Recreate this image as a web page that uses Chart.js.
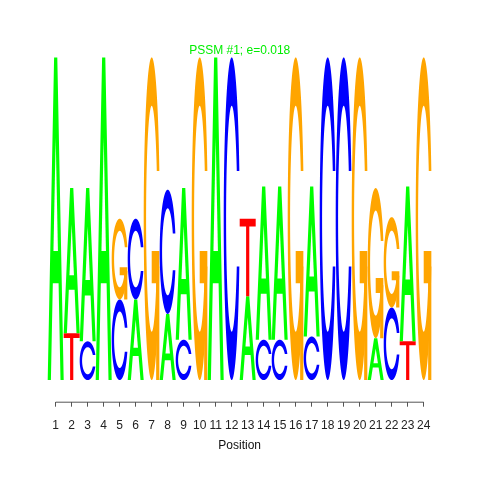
<!DOCTYPE html>
<html>
<head>
<meta charset="utf-8">
<script src="https://cdn.jsdelivr.net/npm/chart.js@4/dist/chart.umd.min.js"></script>
<style>
html,body{margin:0;padding:0;background:#fff;}
#wrap{width:480px;height:480px;}
</style>
</head>
<body>
<div id="wrap"><canvas id="c" width="480" height="480"></canvas></div>
<script>
// ---- data (information content in bits, stacked bottom -> top) ----
const positions = ['1','2','3','4','5','6','7','8','9','10','11','12','13','14','15','16','17','18','19','20','21','22','23','24'];
const bottomLetters = ['A','T','C','A','C','A','G','A','C','G','A','C','A','C','C','G','C','C','C','G','A','C','T','G'];
const bottomBits    = [2.0,0.29,0.24,2.0,0.50,0.50,2.0,0.41,0.25,2.0,2.0,2.0,0.52,0.25,0.25,2.0,0.27,2.0,2.0,2.0,0.26,0.45,0.24,2.0];
const topLetters    = ['','A','A','','G','C','','C','A','','','','T','A','A','','A','','','','G','G','A',''];
const topBits       = [0,0.90,0.95,0,0.50,0.50,0,0.77,0.94,0,0,0,0.48,0.95,0.95,0,0.93,0,0,0,0.93,0.56,0.96,0];
const titleText = 'PSSM #1; e=0.018';
const xTitle = 'Position';

const letterColors = {A:'#00FF00', C:'#0000FF', G:'#FFA500', T:'#FF0000'};

// ---- letter shapes in unit box (x right, y up), as in seqLogo ----
function seq(a,b,n){const r=[];for(let i=0;i<n;i++)r.push(a+(b-a)*i/(n-1));return r;}
function ringShape(){
  const a1=seq(0.3+Math.PI/2,Math.PI,100), a2=seq(Math.PI,1.5*Math.PI,100);
  const xl1=a1.map(a=>0.5+0.5*Math.sin(a)), yl1=a1.map(a=>0.5+0.5*Math.cos(a));
  const xl2=a2.map(a=>0.5+0.5*Math.sin(a)), yl2=a2.map(a=>0.5+0.5*Math.cos(a));
  const xl=xl1.concat(xl2), yl=yl1.concat(yl2);
  const ox=xl.concat(xl.slice().reverse()), oy=yl.concat(yl.slice().reverse().map(v=>1-v));
  const maxY=Math.max(...yl1);
  let xi1=a1.map(a=>0.5+0.35*Math.sin(a)), yi1=a1.map(a=>0.5+0.35*Math.cos(a));
  const keep=yi1.map(v=>v<=maxY);
  xi1=xi1.filter((v,i)=>keep[i]); yi1=yi1.filter((v,i)=>keep[i]);
  yi1[0]=maxY;
  const xi2=a2.map(a=>0.5+0.35*Math.sin(a)), yi2=a2.map(a=>0.5+0.35*Math.cos(a));
  const xi=xi1.concat(xi2), yi=yi1.concat(yi2);
  const ix=xi.concat(xi.slice().reverse()), iy=yi.concat(yi.slice().reverse().map(v=>1-v));
  const X=ox.concat(ix.slice().reverse()), Y=oy.concat(iy.slice().reverse());
  return {pts:X.map((x,i)=>[x,Y[i]]), r1:Math.max(...xl1)};
}
const ring=ringShape();
const shapes={
  A:[{pts:[[0,0],[.4,1],[.6,1],[1,0],[.8,0],[.68,.3],[.32,.3],[.2,0],[0,0]]},
     {pts:[[.36,.4],[.5,.75],[.64,.4],[.36,.4]],hole:true}],
  C:[{pts:ring.pts}],
  G:[{pts:ring.pts},
     {pts:[[ring.r1,.4],[.5,.4],[.5,.3],[ring.r1-.2,.3],[ring.r1-.2,0],[ring.r1,0],[ring.r1,.4]]}],
  T:[{pts:[[0,1],[1,1],[1,.9],[.6,.9],[.6,0],[.4,0],[.4,.9],[0,.9]]}]
};

const letterPlugin={
  id:'letters',
  afterDatasetsDraw(chart){
    const ctx=chart.ctx;
    chart.data.datasets.forEach((ds,di)=>{
      const meta=chart.getDatasetMeta(di);
      meta.data.forEach((bar,i)=>{
        const L=ds.letters[i]; const v=ds.data[i];
        if(!L||!v) return;
        const p=bar.getProps(['x','y','base','width'],true);
        const left=p.x-p.width/2, w=p.width, top=Math.min(p.y,p.base), bottom=Math.max(p.y,p.base), h=bottom-top;
        ctx.save();
        shapes[L].forEach(s=>{
          ctx.beginPath();
          s.pts.forEach((q,k)=>{const px=left+q[0]*w, py=bottom-q[1]*h; if(k===0)ctx.moveTo(px,py); else ctx.lineTo(px,py);});
          ctx.closePath();
          ctx.fillStyle=s.hole?'#FFFFFF':letterColors[L];
          ctx.fill();
        });
        ctx.restore();
      });
    });
  }
};

const axisLinePlugin={
  id:'axisLine',
  afterDraw(chart){
    const xs=chart.scales.x, ctx=chart.ctx, y=chart.chartArea.bottom+0.5;
    const x0=xs.getPixelForValue(0), x1=xs.getPixelForValue(positions.length-1);
    ctx.save(); ctx.strokeStyle='#555555'; ctx.lineWidth=1;
    ctx.beginPath(); ctx.moveTo(x0,y); ctx.lineTo(x1,y); ctx.stroke(); ctx.restore();
  }
};

new Chart(document.getElementById('c'),{
  type:'bar',
  data:{
    labels:positions,
    datasets:[
      {label:'bottom',data:bottomBits,letters:bottomLetters,backgroundColor:'rgba(0,0,0,0)',borderWidth:0,categoryPercentage:1,barPercentage:1},
      {label:'top',data:topBits,letters:topLetters,backgroundColor:'rgba(0,0,0,0)',borderWidth:0,categoryPercentage:1,barPercentage:1}
    ]
  },
  options:{
    responsive:false,
    animation:false,
    events:[],
    layout:{padding:{left:47.7,right:48.3,top:0,bottom:0}},
    plugins:{
      legend:{display:false},
      tooltip:{enabled:false},
      title:{display:true,text:titleText,color:'#00EE00',font:{family:'Liberation Sans',size:12,weight:'normal',lineHeight:1.2},padding:{top:43,bottom:0}}
    },
    scales:{
      x:{
        stacked:true,
        offset:true,
        border:{display:false},
        grid:{display:true,drawOnChartArea:false,drawTicks:true,tickLength:5,color:'#555555',offset:false},
        ticks:{autoSkip:false,maxRotation:0,minRotation:0,padding:12,color:'#222222',font:{family:'Liberation Sans',size:12,lineHeight:1.2}},
        title:{display:true,text:xTitle,color:'#111111',font:{family:'Liberation Sans',size:12,lineHeight:0.15},padding:{top:0,bottom:33.1}}
      },
      y:{stacked:true,display:false,min:-0.134,max:2}
    }
  },
  plugins:[letterPlugin,axisLinePlugin]
});
</script>
</body>
</html>
